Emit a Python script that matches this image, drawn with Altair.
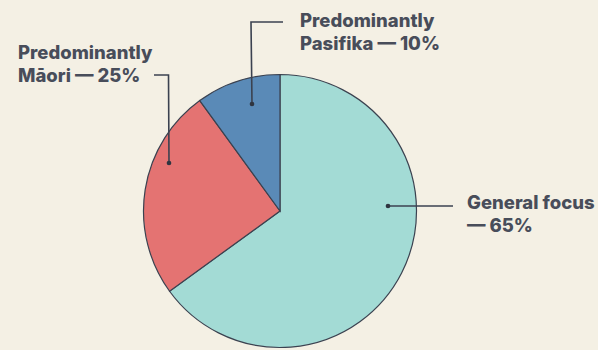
import altair as alt
import pandas as pd

# Share of schools by focus
groups = ["General focus", "Predominantly Māori", "Predominantly Pasifika"]
shares = [65, 25, 10]
colors = ["#a3dbd5", "#e47372", "#5a8ab7"]
label_lines = [
    ["General focus", "— 65%"],
    ["Predominantly", "Māori — 25%"],
    ["Predominantly", "Pasifika — 10%"],
]

W, H = 598, 350
CX, CY, R = 280, 211, 136.5
INK = "#3b4250"
TEXT = "#484d5a"

pie_df = pd.DataFrame({"group": groups, "share": shares, "rank": [0, 1, 2]})

# Callout layout: leader polylines (dot first) and label anchors
leaders = {
    "General focus": [(388, 206), (453, 206)],
    "Predominantly Māori": [(169, 163), (168.5, 75), (154, 75)],
    "Predominantly Pasifika": [(252, 104), (251, 22), (283, 22)],
}
label_anchor = {
    "General focus": (467, 209),
    "Predominantly Māori": (18, 59),
    "Predominantly Pasifika": (300, 27),
}

line_rows, dot_rows, text_rows = [], [], []
for g, lines in zip(groups, label_lines):
    for i, (px, py) in enumerate(leaders[g]):
        line_rows.append({"group": g, "step": i, "px": px, "py": py})
    dot_rows.append({"group": g, "px": leaders[g][0][0], "py": leaders[g][0][1]})
    ax, ay = label_anchor[g]
    text_rows.append({"group": g, "px": ax, "py": ay, "label": lines})

xs = alt.Scale(domain=[0, W], range=[0, W])
ys = alt.Scale(domain=[0, H], range=[0, H])

pie = alt.Chart(pie_df).mark_arc(
    radius=R, stroke=INK, strokeWidth=1.2
).encode(
    theta=alt.Theta("share:Q", stack=True),
    color=alt.Color("group:N", scale=alt.Scale(domain=groups, range=colors), legend=None),
    order=alt.Order("rank:Q"),
    x=alt.value(CX),
    y=alt.value(CY),
)

leader = alt.Chart(pd.DataFrame(line_rows)).mark_line(
    color=INK, strokeWidth=1.6
).encode(
    x=alt.X("px:Q", scale=xs, axis=None),
    y=alt.Y("py:Q", scale=ys, axis=None),
    detail="group:N",
    order="step:Q",
)

dots = alt.Chart(pd.DataFrame(dot_rows)).mark_circle(
    color="#2f3540", size=22, opacity=1
).encode(
    x=alt.X("px:Q", scale=xs, axis=None),
    y=alt.Y("py:Q", scale=ys, axis=None),
)

labels = alt.Chart(pd.DataFrame(text_rows)).mark_text(
    align="left", baseline="alphabetic", font="Inter", fontWeight=800,
    fontSize=18.5, lineHeight=23, color=TEXT
).encode(
    x=alt.X("px:Q", scale=xs, axis=None),
    y=alt.Y("py:Q", scale=ys, axis=None),
    text="label",
)

chart = alt.layer(pie, leader, dots, labels).properties(
    width=W, height=H, padding=0, autosize=alt.AutoSizeParams(type="none"),
    background="#f4f0e4",
).configure_view(stroke=None)

chart.save("out.html", embed_options={"renderer": "svg", "actions": False})
